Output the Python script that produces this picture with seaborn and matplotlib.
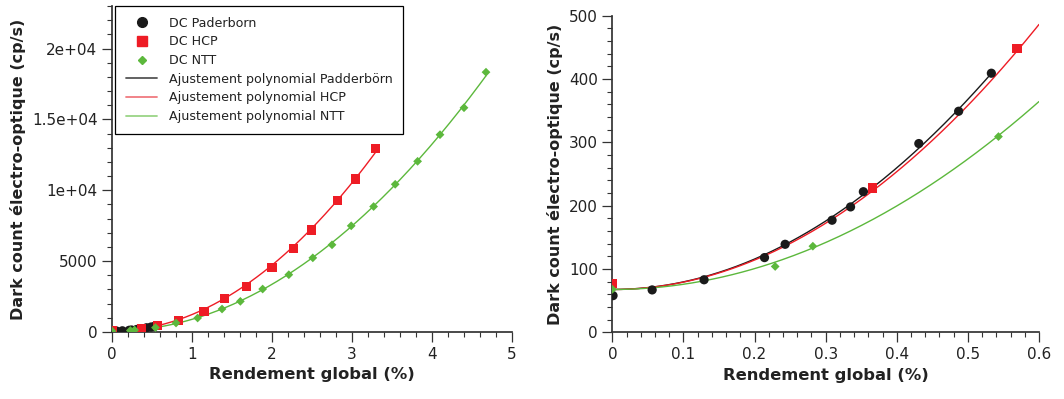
import numpy as np
import pandas as pd
import matplotlib
matplotlib.use("Agg")
import matplotlib.pyplot as plt
from matplotlib.lines import Line2D
from matplotlib.ticker import MultipleLocator
import seaborn as sns

# ---- data ----
pad_x = [0.001, 0.056, 0.129, 0.214, 0.243, 0.309, 0.335, 0.353, 0.431, 0.487, 0.533]
pad_y = [58, 67, 83, 118, 139, 177, 198, 222, 298, 349, 409]

hcp_x = [0.0, 0.366, 0.569, 0.83, 1.15, 1.41, 1.68, 2.0, 2.27, 2.49, 2.82, 3.04, 3.29]
hcp_y = [77, 228, 448, 820, 1430, 2350, 3220, 4550, 5870, 7200, 9270, 10800, 12930]

ntt_x = [0.0, 0.229, 0.282, 0.543, 0.80, 1.07, 1.375, 1.604, 1.883, 2.21, 2.51,
         2.75, 2.99, 3.27, 3.54, 3.82, 4.10, 4.40, 4.675]
ntt_y = [68, 104, 136, 309, 634, 986, 1620, 2160, 3030, 4040, 5230, 6150, 7490,
         8850, 10420, 12040, 13920, 15820, 18330]

series_labels = ["DC Paderborn", "DC HCP", "DC NTT"]
fit_labels = ["Ajustement polynomial Padderbörn", "Ajustement polynomial HCP",
              "Ajustement polynomial NTT"]
xlabel = "Rendement global (%)"
ylabel = "Dark count électro-optique (cp/s)"

BLACK = "#1a1a1a"
RED = "#ee1c25"
GREEN = "#5cb83c"
AX_COL = "#333333"

sns.set_theme(style="ticks")
plt.rcParams["font.family"] = ["DejaVu Sans"]
plt.rcParams.update({
    "axes.edgecolor": AX_COL,
    "xtick.color": AX_COL,
    "ytick.color": AX_COL,
    "xtick.labelcolor": "#222222",
    "ytick.labelcolor": "#222222",
})

# common dark-count floor: mean of the zero-efficiency measurements
all_series = [(pad_x, pad_y), (hcp_x, hcp_y), (ntt_x, ntt_y)]
floor = np.mean([y[int(np.argmin(x))] for x, y in all_series])


def fit_frame(x, y, x0, x1):
    """Least-squares fit of y = floor + a*x^2."""
    x = np.asarray(x, float)
    y = np.asarray(y, float)
    a = np.sum(x ** 2 * (y - floor)) / np.sum(x ** 4)
    xs = np.linspace(x0, x1, 300)
    return pd.DataFrame({"x": xs, "y": floor + a * xs ** 2})


data = [
    (pad_x, pad_y, BLACK, "o", 44),
    (hcp_x, hcp_y, RED, "s", 44),
    (ntt_x, ntt_y, GREEN, "D", 20),
]

fig = plt.figure(figsize=(10.64, 3.99), dpi=100)
ax1 = fig.add_axes([0.1053, 0.168, 0.3759, 0.817])
ax2 = fig.add_axes([0.5755, 0.167, 0.4010, 0.794])


def draw(ax, xlim, ylim, extend):
    for (x, y, col, mk, s), ext in zip(data, extend):
        x1 = xlim[1] if ext else max(x)
        sns.lineplot(data=fit_frame(x, y, 0.0, x1), x="x", y="y", ax=ax,
                     color=col, lw=1.0, sort=False, estimator=None)
    for x, y, col, mk, s in data:
        sns.scatterplot(x=x, y=y, ax=ax, color=col, marker=mk, s=s,
                        edgecolor="none", zorder=3, legend=False)
    ax.set_xlim(*xlim)
    ax.set_ylim(*ylim)
    ax.set_xlabel(xlabel, fontsize=11.8, fontweight="bold", color="#222222")
    ax.set_ylabel(ylabel, fontsize=11.5, fontweight="bold", color="#222222")
    for side in ("top", "right"):
        ax.spines[side].set_visible(False)
    ax.tick_params(which="major", direction="out", length=7, width=0.9,
                   labelsize=11)
    ax.tick_params(which="minor", direction="out", length=3.5, width=0.8)


draw(ax1, (0, 5), (0, 23000), [False, False, False])
ax1.xaxis.set_major_locator(MultipleLocator(1))
ax1.xaxis.set_minor_locator(MultipleLocator(0.2))
ax1.yaxis.set_minor_locator(MultipleLocator(1000))
ax1.set_yticks([0, 5000, 10000, 15000, 20000])
ax1.set_yticklabels(["0", "5000", "1e+04", "1.5e+04", "2e+04"])

draw(ax2, (0, 0.6), (0, 500), [False, True, True])
ax2.xaxis.set_minor_locator(MultipleLocator(0.02))
ax2.yaxis.set_major_locator(MultipleLocator(100))
ax2.yaxis.set_minor_locator(MultipleLocator(20))
ax2.set_xticks([0, 0.1, 0.2, 0.3, 0.4, 0.5, 0.6])
ax2.set_xticklabels(["0", "0.1", "0.2", "0.3", "0.4", "0.5", "0.6"])

handles = [
    Line2D([], [], ls="none", marker="o", color=BLACK, markersize=7),
    Line2D([], [], ls="none", marker="s", color=RED, markersize=7),
    Line2D([], [], ls="none", marker="D", color=GREEN, markersize=4.5),
    Line2D([], [], color="#555555", lw=1.3),
    Line2D([], [], color="#f07a7f", lw=1.3),
    Line2D([], [], color="#9ad486", lw=1.3),
]
leg = ax1.legend(handles, series_labels + fit_labels, loc="upper left",
                 bbox_to_anchor=(0.0075, 1.0), borderaxespad=0, fontsize=9.1,
                 frameon=True, fancybox=False, edgecolor="black",
                 handlelength=2.5, labelspacing=0.45, borderpad=0.85,
                 handletextpad=0.9, labelcolor="#222222")
leg.get_frame().set_linewidth(0.9)
leg.get_frame().set_alpha(1)

fig.savefig("out.png", dpi=100)
